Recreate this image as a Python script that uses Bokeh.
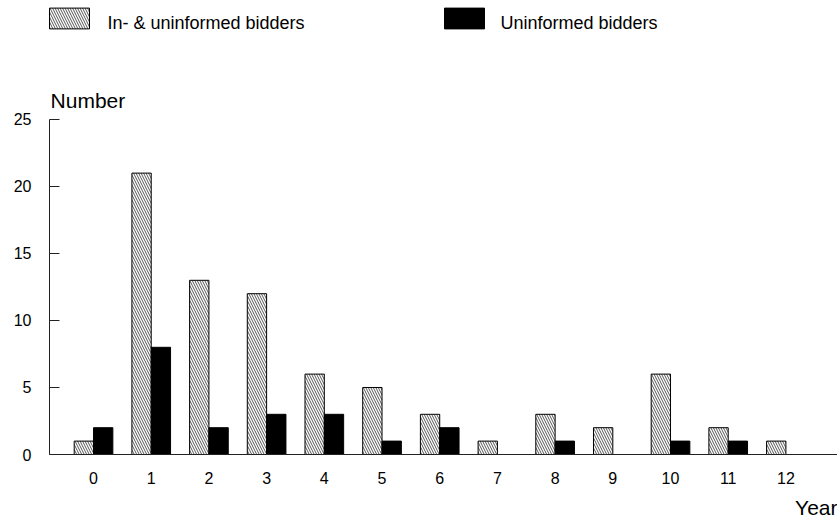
from bokeh.plotting import figure
from bokeh.models import ColumnDataSource, Range1d, FixedTicker, Label, Legend, LegendItem, Title
from bokeh.transform import dodge
from bokeh.embed import file_html
from bokeh.resources import INLINE

years = [0, 1, 2, 3, 4, 5, 6, 7, 8, 9, 10, 11, 12]
in_and_uninformed = [1, 21, 13, 12, 6, 5, 3, 1, 3, 2, 6, 2, 1]
uninformed = [2, 8, 2, 3, 3, 1, 2, 0, 1, 0, 1, 1, 0]
y_ticks = [0, 5, 10, 15, 20, 25]
series_names = ["In- & uninformed bidders", "Uninformed bidders"]

FONT = "Liberation Sans"

src = ColumnDataSource(dict(year=years, a=in_and_uninformed, b=uninformed))

X0, X1 = -0.763, 12.894
Y1 = 33.88
p = figure(width=837, height=528, output_backend="svg", toolbar_location=None,
           x_range=Range1d(X0, X1), y_range=Range1d(0, Y1),
           min_border_left=49, min_border_right=0, min_border_top=0, min_border_bottom=74)
p.outline_line_color = None
p.xgrid.visible = False
p.ygrid.visible = False
p.background_fill_color = "white"

r1 = p.vbar(x=dodge("year", -0.1675, range=p.x_range), top="a", width=0.335, source=src,
            fill_color="white", line_color="black", line_width=1,
            hatch_pattern="\\", hatch_color="#555555", hatch_scale=5, hatch_weight=1)
r2 = p.vbar(x=dodge("year", 0.1675, range=p.x_range), top="b", width=0.335, source=src,
            fill_color="black", line_color="black", line_width=1)

# axes
xa = p.xaxis[0]
xa.ticker = FixedTicker(ticks=years)
xa.major_tick_in = 0
xa.major_tick_out = 0
xa.minor_tick_in = 0
xa.minor_tick_out = 0
xa.major_label_standoff = 17
xa.major_label_text_font = FONT
xa.major_label_text_font_size = "16px"
xa.major_label_text_color = "black"
xa.axis_line_color = "#222222"

p.add_layout(Title(text="Year", align="right", text_font=FONT, text_font_size="21px",
                   text_font_style="normal", text_color="black", standoff=15), "below")

ya = p.yaxis[0]
ya.ticker = FixedTicker(ticks=y_ticks)
ya.bounds = (0, 25)
ya.major_tick_in = 10
ya.major_tick_out = 0
ya.minor_tick_in = 0
ya.minor_tick_out = 0
ya.major_label_standoff = 18
ya.major_label_text_font = FONT
ya.major_label_text_font_size = "16px"
ya.major_label_text_color = "black"
ya.axis_line_color = "#222222"
ya.major_tick_line_color = "#222222"

p.add_layout(Label(x=X0 + 0.018, y=26.42, text="Number", text_font=FONT, text_font_size="21px",
                   text_baseline="alphabetic", text_align="left", text_color="black"))

# legend: key boxes through Bokeh legends, texts placed beside them
legend_text_x = [0.242, 7.053]
legend_text_y = 32.22
for rend, loc in [(r1, (-5, 423)), (r2, (390, 423))]:
    lg = Legend(items=[LegendItem(label="", renderers=[rend])], location=loc,
                orientation="horizontal", glyph_width=50, glyph_height=26,
                label_height=22, label_standoff=0, label_width=0, padding=0, margin=0, spacing=0,
                border_line_color=None, background_fill_alpha=0,
                label_text_font=FONT, label_text_font_size="17px")
    p.add_layout(lg, "center")
for name, tx in zip(series_names, legend_text_x):
    p.add_layout(Label(x=tx, y=legend_text_y, text=name, text_font=FONT, text_font_size="18px",
                       text_baseline="alphabetic", text_align="left", text_color="black"))

open("out.html", "w").write(file_html(p, INLINE))
